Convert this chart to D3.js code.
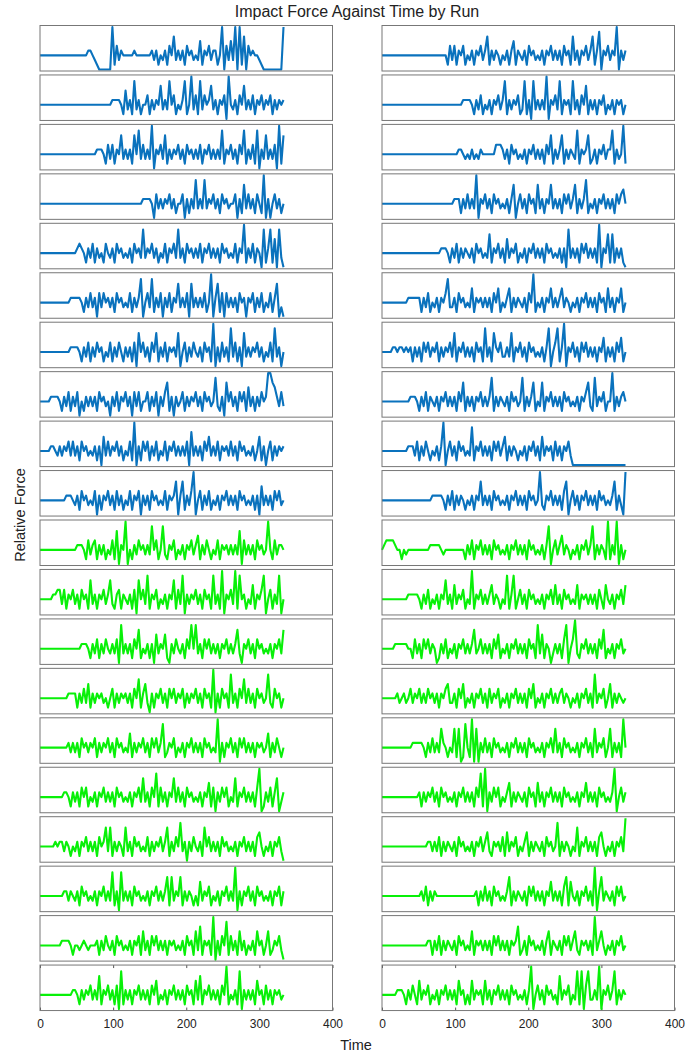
<!DOCTYPE html>
<html>
<head>
<meta charset="utf-8">
<script src="https://cdn.jsdelivr.net/npm/d3@7"></script>
<style>
  body { margin: 0; background: #fff; }
  text { font-family: "Liberation Sans", Arial, sans-serif; }
</style>
</head>
<body>
<div id="chart"></div>
<script>
// sampled every 3 time units, level 0 (panel floor) .. 9 (panel top)
var timeStep = 3;
var tickValues = [0, 100, 200, 300, 400];
var titleText = 'Impact Force Against Time by Run';

var runsLeft = [
  '33333333 33333333 33333344 32100000 09152433 33343333 33342413 24153724 24153423 26143524 41390526 29091705 34332100 00000009',
  '33333333 33333333 33333333 33333333 34444316 24182413 35142437 24283513 24813925 18253472 41435093 24153724 25143524 35142434',
  '33333333 33333333 33333333 33444315 25143724 24173825 24290435 27142435 24153424 25143524 24281435 24153814 25180427 24250917',
  '33333333 33333333 33333333 33333333 33333333 33333334 44430524 24352413 35041428 24282435 24153423 35041725 24153190 40352413',
  '33333333 33333333 34543142 51423153 24153423 24153428 24352413 25143528 24153424 25143524 24153423 25143914 25143081 48160820',
  '33333333 33333344 44431425 24052534 24153423 25142480 35281425 04251437 24250724 24251390 47150524 24153404 35142513 25147020',
  '33333333 33333344 44314251 42534132 51425314 24150735 24153714 25143427 03514253 24153419 04152418 25140724 24352413 25182403',
  '33333444 43142514 25031424 24153423 04251435 24052513 35142504 25714042 35142435 24153423 82140735 24153516 24142534 99764252',
  '33333443 24243525 24153423 24140625 24352413 25190415 35142513 25143524 24250724 24153624 25143425 24153423 24136140 35142434',
  '33333333 33334443 24153423 25041435 24152413 25143504 24153423 25143470 47142590 35142513 24143524 24153423 24140624 24153523',
  '33333333 33333333 34443152 45142413 25170439 03142534 24283513 82143513 24143524 61425313 25143424 24270524 24153423 93152443',
  '33333344 55251435 24153417 24143524 72145143 24150735 28143513 24143715 28042435 24153418 24190435 29183413 26143580 35142803',
  '33333333 33333333 33344431 42514253 24250824 24153713 24140624 36104253 24153838 24153524 24143524 24720435 24153423 24143527',
  '33333333 33333444 41425261 42434231 35142434 24153714 62041435 24153524 35142435 24153419 04153418 24153725 24153423 82153413',
  '33333333 33333424 24153424 35142435 24153423 26142435 24153524 81243513 24143524 24153423 29041435 24153524 24143423 61425313',
  '33333333 33344314 24153513 24143524 24153423 24143527 24153815 24143725 24153423 24143615 04253513 27143524 24159014 25147024',
  '33333334 34424313 24143524 24153472 71424317 24153423 25142435 24714253 82404253 24173524 24153423 24143524 24156313 24143520',
  '33333333 33344243 24153423 24143524 28140824 24153423 24143524 24717243 71424313 16243513 24143524 29041435 24153423 24143514',
  '33333333 33444431 33234323 33414253 24153423 24143516 24153524 24143423 24153416 27143419 04153815 24162413 24163413 61243520',
  '33333333 33333334 43142435 24271435 24150814 24143524 24153613 24143524 24153416 27143524 24153913 24180424 24163415 24143423'
];

var runsRight = [
  '33333333 33333333 33333333 33333315 25143513 24143524 71424313 24146143 24153423 24143524 24153417 24143524 71480435 24390424',
  '33333333 33333333 33333333 33333333 33333444 43142513 24143524 81424351 28140824 24290435 28143418 24153714 24143513 24143413',
  '33333333 33333333 33333333 33333333 33344323 24232433 33335554 24153423 24143524 24153714 24714243 28143471 24143524 48142391',
  '33333333 33333333 33333333 33333333 34441425 24290435 24153423 24147035 24153417 24143724 24153524 71424813 24143524 24153563',
  '33333333 33333333 33333333 33344431 42514243 24153423 27143524 16243513 24143524 24153423 24140824 24153524 24190437 17142410',
  '33333333 33334444 44142513 24143582 24153423 26143424 24153613 24614243 24153913 24143624 24624313 24143524 24153416 24143613',
  '33333443 44343414 24153524 35142435 27143524 24153418 24174352 24271435 24153423 24148035 81490435 24153524 24143614 24153613',
  '33333333 33333444 31425143 24143524 24153714 24143524 24814243 24153423 81424713 27143524 24153423 24143572 18243513 39142453',
  '33333333 33334442 51425313 24149035 24153423 28143524 24153524 61424313 24143524 16243415 24143520 00000000 00000000 00000000',
  '33333333 33333333 33333334 44443142 51424313 24143724 24153423 24143524 24153423 92143524 24157035 24143524 24153423 24714209',
  '34555543 31323333 33333344 44432333 33333314 25143524 24153423 24143524 24153423 24148035 24624313 24143524 81424319 14290413',
  '33333333 33334444 43142513 24143724 16243513 29143524 24624313 28148135 24153423 24143526 24153423 26143424 24153163 24143526',
  '33333344 44443315 24153524 30142513 24143524 24723524 24153613 24143524 24153418 26143024 24158035 92143524 24153713 24143523',
  '33333334 23423524 35242534 24143562 24153613 24143524 15243513 24143524 24153613 24143524 24524313 24143524 18243513 61424323',
  '33333333 33333344 44431425 24274313 27170183 19070425 24153423 24143524 24153423 24143527 24153423 24143524 17243513 71424193',
  '33333333 33333333 34142435 24153423 24143524 24153819 04253513 24614243 24153416 24143524 24153423 24143624 24153423 24903524',
  '33333333 33333333 33333442 42514243 24153423 24143524 62143425 16243513 24614243 24153423 81424313 27143524 24156313 24143529',
  '33333333 33333333 33425142 43333333 33333333 33341425 24153423 24714243 24153524 24143624 24157163 24143524 19047243 24153523',
  '33333333 33333333 33333441 42514243 24153423 26143424 24153524 24143471 24153423 24146143 24153524 62143424 19246313 24143523',
  '33333334 44314253 16243513 24143524 24163413 16243416 24143524 24153423 24149035 24153423 17243513 28180582 24290435 24814243'
];

var width = 699;
var height = 1055;
var colLeft = [40, 382];
var panelW = 292.5;
var panelTop = 25.5;
var panelPitch = 49.45;
var panelH = 45.5;

function parseRun(s) {
  return s.replace(/\s/g, '').split('').map(function(c, i) {
    return { t: i * timeStep, v: +c };
  });
}

var svg = d3.select('#chart')
  .append('svg')
  .attr('width', width)
  .attr('height', height);

svg.append('rect')
  .attr('width', width)
  .attr('height', height)
  .style('fill', '#fff');

svg.append('text')
  .attr('x', 357)
  .attr('y', 17)
  .attr('text-anchor', 'middle')
  .style('font-size', '16px')
  .style('fill', '#222')
  .text(titleText);

svg.append('text')
  .attr('transform', 'translate(25,515) rotate(-90)')
  .attr('text-anchor', 'middle')
  .style('font-size', '14.5px')
  .style('fill', '#222')
  .text('Relative Force');

svg.append('text')
  .attr('x', 356)
  .attr('y', 1050)
  .attr('text-anchor', 'middle')
  .style('font-size', '14.5px')
  .style('fill', '#222')
  .text('Time');

[runsLeft, runsRight].forEach(function(runs, col) {
  var x = d3.scaleLinear()
    .domain([0, 400])
    .range([colLeft[col], colLeft[col] + panelW]);

  runs.forEach(function(run, row) {
    var top = panelTop + row * panelPitch;
    var y = d3.scaleLinear()
      .domain([0, 9])
      .range([top + panelH - 1.5, top + 1.5]);
    var line = d3.line()
      .x(function(d) { return x(d.t); })
      .y(function(d) { return y(d.v); });

    var g = svg.append('g');

    // only the bottom row carries ticks and labels
    if (row === runs.length - 1) {
      var axisB = g.append('g')
        .attr('transform', 'translate(0,' + (top + panelH) + ')')
        .call(d3.axisBottom(x).tickValues(tickValues).tickSize(-3).tickPadding(9));
      var axisT = g.append('g')
        .attr('transform', 'translate(0,' + top + ')')
        .call(d3.axisTop(x).tickValues(tickValues).tickSize(-3).tickFormat(''));
      [axisB, axisT].forEach(function(a) {
        a.select('.domain').remove();
        a.selectAll('line').style('stroke', '#555');
      });
      axisB.selectAll('text')
        .style('font-family', '"Liberation Sans", Arial, sans-serif')
        .style('font-size', '12px')
        .style('fill', '#222');
    }

    g.append('path')
      .datum(parseRun(run))
      .attr('d', line)
      .style('fill', 'none')
      .style('stroke', row < 10 ? '#0a72bd' : '#08f008')
      .style('stroke-width', 2.1)
      .style('stroke-linejoin', 'round');

    g.append('rect')
      .attr('x', colLeft[col])
      .attr('y', top)
      .attr('width', panelW)
      .attr('height', panelH)
      .style('fill', 'none')
      .style('stroke', '#777')
      .style('stroke-width', 1);
  });
});
</script>
</body>
</html>
